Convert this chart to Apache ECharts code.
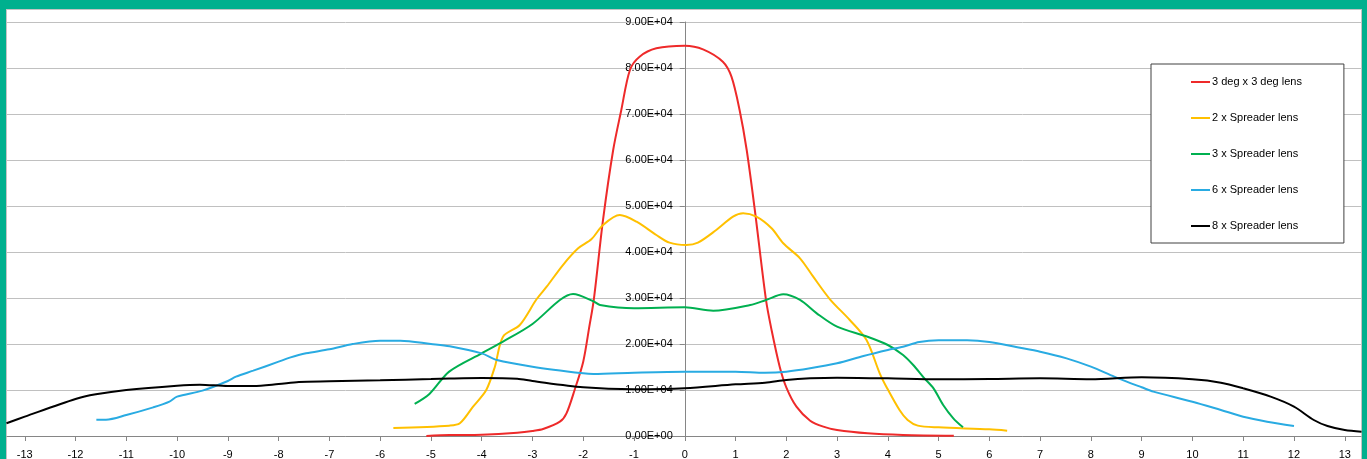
<!DOCTYPE html>
<html>
<head>
<meta charset="utf-8">
<script src="https://cdn.jsdelivr.net/npm/echarts@6/dist/echarts.min.js"></script>
<style>
  html, body { margin: 0; padding: 0; background: #00b08e; }
  #sheet {
    position: absolute; left: 6px; top: 9px; width: 1354px; height: 460px;
    background: #fff; border-top: 1px solid #c4c4c4; border-left: 1px solid #c4c4c4; border-right: 1px solid #c4c4c4;
  }
  #main { position: absolute; left: 0; top: 0; width: 1367px; height: 459px; }
</style>
</head>
<body>
<div id="sheet"></div>
<div id="main"></div>
<script>
// legend names
const seriesNames = ['3 deg x 3 deg lens', '2 x Spreader lens', '3 x Spreader lens', '6 x Spreader lens', '8 x Spreader lens'];
const xTicks = [-13, -12, -11, -10, -9, -8, -7, -6, -5, -4, -3, -2, -1, 0, 1, 2, 3, 4, 5, 6, 7, 8, 9, 10, 11, 12, 13];

// 3 deg x 3 deg lens
const redX = [-5.09, -4.63, -4, -3.3, -3, -2.79, -2.46, -2.33, -2.17, -2, -1.88, -1.79, -1.61, -1.41, -1.25, -1.08, -0.89, -0.56, 0, 0.36, 0.75, 0.92, 1.08, 1.22, 1.38, 1.6, 1.71, 1.87, 2, 2.2, 2.47, 2.73, 3, 3.6, 4.3, 5.3];
const redY = [0, 200, 290, 720, 1090, 1520, 3120, 4930, 10000, 16160, 23770, 29780, 46960, 62170, 70870, 79570, 82460, 84280, 84850, 84060, 81370, 78110, 70870, 62170, 49130, 29570, 23040, 15070, 10590, 6380, 3330, 2030, 1300, 580, 220, 50];

// 2 x Spreader lens
const yellowX = [-5.74, -4.64, -4.43, -4.17, -3.91, -3.74, -3.58, -3.25, -2.92, -2.72, -2.4, -2.1, -1.84, -1.61, -1.28, -0.95, -0.56, -0.3, 0.03, 0.26, 0.62, 0.95, 1.15, 1.41, 1.71, 1.94, 2.27, 2.53, 2.86, 3.25, 3.58, 3.84, 3.97, 4.23, 4.39, 4.59, 5, 6, 6.35];
const yellowY = [1740, 2250, 2760, 6380, 10000, 15070, 21590, 24130, 29720, 32460, 37170, 40800, 42760, 45870, 48040, 46590, 43700, 42030, 41520, 42030, 44780, 47670, 48410, 47670, 45150, 41890, 38630, 34630, 29720, 25220, 20870, 13620, 10720, 5650, 3480, 2250, 1880, 1450, 1160];

// 3 x Spreader lens
const greenX = [-5.32, -5.03, -4.64, -4, -3.58, -3, -2.46, -2.2, -1.8, -1.67, -1, 0, 0.56, 1.29, 1.6, 1.94, 2.27, 2.6, 3, 3.6, 4, 4.3, 4.5, 4.72, 4.9, 5.09, 5.29, 5.48];
const greenY = [6960, 9130, 14000, 17970, 20510, 24350, 29570, 30870, 29300, 28480, 27760, 27970, 27240, 28480, 29570, 30800, 29570, 26670, 23770, 21590, 19780, 17610, 15430, 12530, 10360, 6740, 3840, 1880];

// 6 x Spreader lens
const blueX = [-11.59, -11.4, -11, -10.47, -10.15, -10, -9.5, -9, -8.84, -8.5, -8, -7.78, -7.46, -7, -6.54, -6, -5.6, -5, -4.63, -4, -3.7, -3, -2, -1.8, -1, 0, 1, 1.58, 2, 2.47, 3, 3.52, 4, 4.3, 4.62, 5, 5.56, 6, 6.55, 7, 7.52, 8, 8.46, 8.79, 9, 9.23, 10, 10.56, 11, 11.47, 12];
const blueY = [3550, 3550, 4560, 6230, 7460, 8550, 9860, 11960, 12900, 14200, 16160, 17030, 17970, 18840, 20000, 20720, 20720, 20000, 19500, 17970, 16520, 15070, 13620, 13480, 13770, 13990, 13990, 13770, 13990, 14710, 15800, 17390, 18700, 19420, 20430, 20800, 20800, 20430, 19280, 18330, 16880, 15070, 12900, 11450, 10590, 9640, 7460, 5650, 4200, 3120, 2170];

// 8 x Spreader lens
const blackX = [-13.36, -13, -12, -11.6, -11, -10, -9.55, -9, -8.5, -8, -7.6, -7, -6, -5, -4.64, -4, -3.3, -3, -2, -1, 0, 1, 1.58, 2, 2.47, 3, 4, 5, 6, 7, 8, 9, 10, 10.56, 11, 11.54, 12, 12.39, 12.66, 13, 13.33];
const blackY = [2760, 4200, 8040, 9060, 10000, 10940, 11160, 10870, 10870, 11300, 11740, 11880, 12100, 12390, 12500, 12610, 12460, 11960, 10590, 10140, 10360, 11230, 11590, 12170, 12530, 12680, 12530, 12320, 12390, 12530, 12320, 12750, 12320, 11590, 10360, 8550, 6380, 3480, 2170, 1300, 940];

const colors = ['#ee2a2a', '#ffc000', '#00b050', '#29abe2', '#000000'];

function pairs(xs, ys) {
  return xs.map((x, i) => [x, ys[i]]);
}

// 9.00E+04 style labels
function sci(v) {
  if (v === 0) return '0.00E+00';
  const e = Math.floor(Math.log10(v));
  const m = v / Math.pow(10, e);
  return m.toFixed(2) + 'E+' + String(e).padStart(2, '0');
}

const allData = [
  pairs(redX, redY),
  pairs(yellowX, yellowY),
  pairs(greenX, greenY),
  pairs(blueX, blueY),
  pairs(blackX, blackY)
];

const gridLeft = 7;
const gridRight = 6;
const xMin = -13.35;
const xMax = 13.32;
// pixel of x = 0, where the value axis sits
const zeroPx = (1367 - gridLeft - gridRight) * (0 - xMin) / (xMax - xMin);

var myChart = echarts.init(document.getElementById('main'));
myChart.setOption({
  animation: false,
  textStyle: { fontFamily: 'Liberation Sans' },
  grid: { left: gridLeft, right: gridRight, top: 22, bottom: 23, containLabel: false, outerBoundsMode: 'none' },
  legend: {
    orient: 'vertical',
    left: 1151,
    top: 64,
    padding: [11, 42, 10, 40],
    itemGap: 22,
    itemWidth: 19,
    itemHeight: 2,
    icon: 'rect',
    borderColor: '#404040',
    borderWidth: 1,
    backgroundColor: '#fff',
    textStyle: { fontSize: 11, color: '#000', lineHeight: 14, padding: [0, 0, 0, -3] },
    data: seriesNames
  },
  xAxis: {
    type: 'value',
    min: xMin,
    max: xMax,
    splitLine: { show: false },
    axisLine: { onZero: false, lineStyle: { color: '#868686' } },
    axisTick: { customValues: xTicks, length: 5, lineStyle: { color: '#868686' } },
    axisLabel: { customValues: xTicks, fontSize: 11, color: '#000', margin: 13 }
  },
  yAxis: {
    type: 'value',
    min: 0,
    max: 90000,
    interval: 10000,
    position: 'left',
    offset: -zeroPx,
    axisLine: { show: true, onZero: false, lineStyle: { color: '#868686' } },
    axisTick: { show: true, length: 5, lineStyle: { color: '#868686' } },
    splitLine: { lineStyle: { color: '#c0c0c0' } },
    axisLabel: { fontSize: 11, color: '#000', margin: 12, formatter: sci }
  },
  series: seriesNames.map((name, i) => ({
    name: name,
    type: 'line',
    data: allData[i],
    smooth: 0.3,
    symbol: 'none',
    color: colors[i],
    lineStyle: { width: 2, color: colors[i] }
  }))
});
</script>
</body>
</html>
